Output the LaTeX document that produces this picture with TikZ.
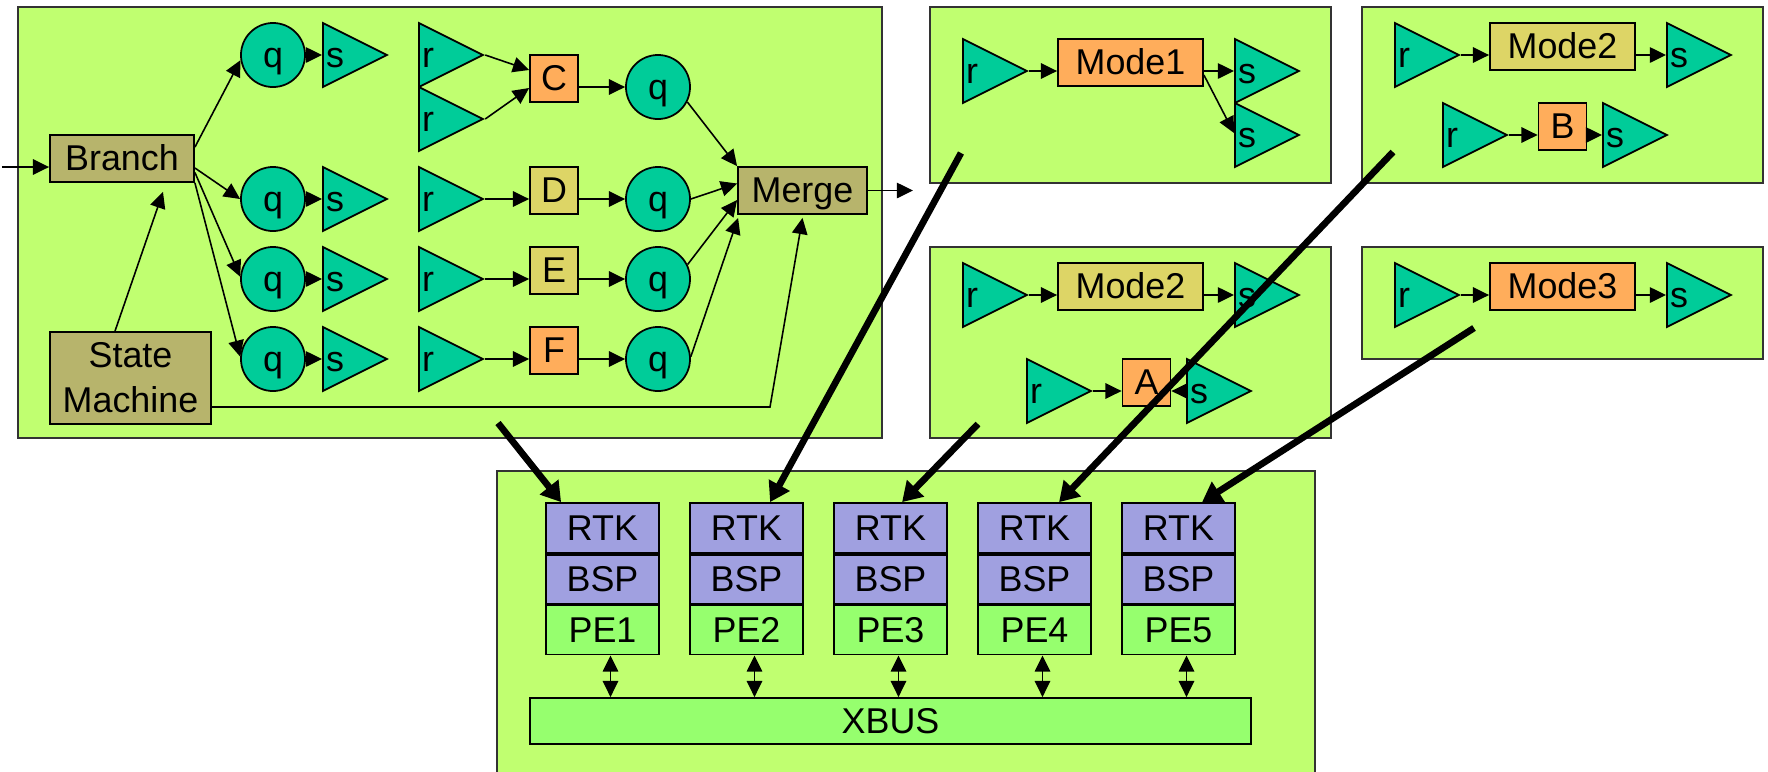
\documentclass[tikz,border=0pt]{standalone}
\usepackage{fontspec}
\setmainfont{Liberation Sans}
\usetikzlibrary{shapes.geometric, arrows.meta, positioning, calc}
\definecolor{panelgreen}{RGB}{192,255,112}
\definecolor{tealnode}{RGB}{0,204,153}
\definecolor{orangenode}{RGB}{255,173,91}
\definecolor{yellownode}{RGB}{221,213,102}
\definecolor{olivenode}{RGB}{183,180,108}
\definecolor{lavender}{RGB}{160,160,224}
\definecolor{pegreen}{RGB}{150,255,110}
\tikzset{
  txt/.style={font=\fontsize{10.2}{12.8}\selectfont},
  panel/.style={draw=black!80, fill=panelgreen, line width=0.5pt},
  rect/.style={rectangle, draw, line width=0.5pt, inner sep=0pt, txt},
  box/.style={rect, text height=0.9em, text depth=0.21em},
  ctl/.style={box, fill=olivenode},
  org/.style={box, fill=orangenode},
  ylw/.style={box, fill=yellownode},
  letter/.style={minimum width=0.48cm, minimum height=0.47cm},
  modebox/.style={minimum width=1.45cm, minimum height=0.47cm},
  layer/.style={box, fill=lavender, minimum width=1.13cm, minimum height=0.49cm},
  pe/.style={box, fill=pegreen, minimum width=1.13cm, minimum height=0.49cm},
  que/.style={circle, draw, fill=tealnode, minimum size=0.64cm, inner sep=0pt,
    line width=0.5pt, txt, text height=0.9em, text depth=0.21em},
  port/.style={isosceles triangle, isosceles triangle stretches, draw,
    fill=tealnode, minimum width=0.64cm, minimum height=0.64cm,
    inner sep=0pt, line width=0.5pt, anchor=west},
  plbl/.style={anchor=west, inner sep=1pt, txt, text height=0.9em, text depth=0.21em},
  arr/.style={-{Triangle[length=4.6pt, width=4.4pt]}, line width=0.45pt},
  darr/.style={{Triangle[length=4.6pt, width=4.4pt]}-{Triangle[length=4.6pt, width=4.4pt]},
    line width=0.45pt},
  map/.style={-{Triangle[length=5.5pt, width=6.5pt]}, line width=1.9pt}
}

\begin{document}
\begin{tikzpicture}[x=0.01cm, y=-0.01cm]
  \useasboundingbox (0,0) rectangle (1768,772);

  % panels
  \draw[panel] (18,7) rectangle (882,438);
  \draw[panel] (930,7) rectangle (1331,183);
  \draw[panel] (1362,7) rectangle (1763,183);
  \draw[panel] (930,247) rectangle (1331,438);
  \draw[panel] (1362,247) rectangle (1763,359);
  \draw[panel] (497,471) rectangle (1315,800);

  % branch / merge graph
  \node[ctl, minimum width=1.44cm, minimum height=0.47cm] (branch) at (122,158.5) {Branch};
  \node[rect, fill=olivenode, align=center, minimum width=1.61cm,
        minimum height=0.92cm] (fsm) at (130.5,378) {State\\Machine};
  \node[ctl, minimum width=1.29cm, minimum height=0.47cm] (merge) at (802.5,190.5) {Merge};

  \foreach \n/\y in {1/55,2/199,3/279,4/359}{
    \node[que] (qa\n) at (273,\y) {q};
    \node[port, label={[plbl]west:s}] (sa\n) at (322,\y) {};
    \draw[arr] (qa\n.east) -- (sa\n.west);
  }

  \foreach \n/\y in {1/55,2/119,3/199,4/279,5/359}
    \node[port, label={[plbl]west:r}] (rb\n) at (418,\y) {};

  \node[org, letter] (C) at (554,78.5) {C};
  \node[ylw, letter] (D) at (554,190.5) {D};
  \node[ylw, letter] (E) at (554,270.5) {E};
  \node[org, letter] (F) at (554,350.5) {F};

  \foreach \n/\y in {1/87,2/199,3/279,4/359}
    \node[que] (qb\n) at (658,\y) {q};

  \coordinate (src) at (2,167);
  \coordinate (turn) at (770,407);
  \coordinate (out) at (913,190.5);

  \draw[arr] (src) -- (src -| branch.west);
  \draw[arr] ([shift={(0,13)}]branch.north east) -- (qa1.189);
  \draw[arr] ([shift={(0,9.5)}]branch.east) -- (qa2.west);
  \draw[arr] ([shift={(0,14)}]branch.east) -- (qa3.176);
  \draw[arr] (branch.south east) -- (qa4.176);
  \draw[arr] ([shift={(-15.5,0)}]fsm.north) -- ([shift={(41,9)}]branch.south);

  \draw[arr] (rb1.apex) -- ([shift={(0,-8.5)}]C.west);
  \draw[arr] (rb2.apex) -- ([shift={(0,9.5)}]C.west);
  \foreach \rn/\blk in {3/D,4/E,5/F}
    \draw[arr] (rb\rn.apex) -- (rb\rn.apex -| \blk.west);
  \foreach \blk/\qn in {C/1,D/2,E/3,F/4}
    \draw[arr] (\blk.east |- qb\qn) -- (qb\qn);

  \draw[arr] (qb1.-27) -- (merge.north west);
  \draw[arr] (qb2.east) -- ([shift={(0,-7)}]merge.west);
  \draw[arr] (qb3.26) -- ([shift={(0,9.5)}]merge.west);
  \draw[arr] (qb4.4) -- ([shift={(1,3)}]merge.south west);
  \draw[arr] (fsm.east |- turn) -- (turn) -- ([shift={(0,3)}]merge.south);
  \draw[arr] (merge.east) -- (out);

  % Mode1
  \node[port, label={[plbl]west:r}] (m1r) at (962,71) {};
  \node[org, modebox] (mode1) at (1130.5,62.5) {Mode1};
  \node[port, label={[plbl]west:s}] (m1s) at (1234,71) {};
  \node[port, label={[plbl]west:s}] (m1t) at (1234,135) {};
  \draw[arr] (m1r.apex) -- (m1r.apex -| mode1.west);
  \draw[arr] (mode1.east |- m1s) -- (m1s.west);
  \draw[arr] ([shift={(0,12.5)}]mode1.east) -- ([shift={(0,-2)}]m1t.west);

  % Mode2 and B
  \node[port, label={[plbl]west:r}] (m2r) at (1394,55) {};
  \node[ylw, modebox] (mode2) at (1562.5,46.5) {Mode2};
  \node[port, label={[plbl]west:s}] (m2s) at (1666,55) {};
  \draw[arr] (m2r.apex) -- (m2r.apex -| mode2.west);
  \draw[arr] (mode2.east |- m2s) -- (m2s.west);

  \node[port, label={[plbl]west:r}] (br) at (1442,135) {};
  \node[org, letter] (B) at (1562.5,126.5) {B};
  \node[port, label={[plbl]west:s}] (bs) at (1602,135) {};
  \draw[arr] (br.apex) -- (br.apex -| B.west);
  \draw[arr] (B.east |- bs) -- (bs.west);

  % Mode2 and A
  \node[port, label={[plbl]west:r}] (m2br) at (962,295) {};
  \node[ylw, modebox] (mode2b) at (1130.5,286.5) {Mode2};
  \node[port, label={[plbl]west:s}] (m2bs) at (1234,295) {};
  \draw[arr] (m2br.apex) -- (m2br.apex -| mode2b.west);
  \draw[arr] (mode2b.east |- m2bs) -- (m2bs.west);

  \node[port, label={[plbl]west:r}] (ar) at (1026,391) {};
  \node[org, letter] (A) at (1146.5,382.5) {A};
  \node[port, label={[plbl]west:s}] (as) at (1186,391) {};
  \draw[arr] (ar.apex) -- (ar.apex -| A.west);
  \draw[arr] (as.west) -- (as.west -| A.east);

  % Mode3
  \node[port, label={[plbl]west:r}] (m3r) at (1394,295) {};
  \node[org, modebox] (mode3) at (1562.5,286.5) {Mode3};
  \node[port, label={[plbl]west:s}] (m3s) at (1666,295) {};
  \draw[arr] (m3r.apex) -- (m3r.apex -| mode3.west);
  \draw[arr] (mode3.east |- m3s) -- (m3s.west);

  % processing elements
  \node[pe, minimum width=7.21cm, minimum height=0.46cm] (xbus) at (890.5,721) {XBUS};
  \foreach \i in {1,...,5}{
    \node[layer, minimum height=0.50cm] (rtk\i) at ({602.5+144*(\i-1)},528) {RTK};
    \node[layer, below=0pt of rtk\i] (bsp\i) {BSP};
    \node[pe, below=0pt of bsp\i] (pe\i) {PE\i};
    \draw[darr] ($(pe\i.south)+(8,0)$) -- ($(pe\i.south |- xbus.north)+(8,0)$);
  }

  % mapping onto PEs
  \coordinate (pan1) at (498,423);
  \coordinate (pan2) at (961,153);
  \coordinate (pan3) at (1393,152);
  \coordinate (pan4) at (978,424);
  \coordinate (pan5) at (1474,328);
  \draw[map] (pan1) -- ([shift={(16,0)}]rtk1.north west);
  \draw[map] (pan2) -- ([shift={(81,0)}]rtk2.north west);
  \draw[map] (pan4) -- ([shift={(69,0)}]rtk3.north west);
  \draw[map] (pan3) -- ([shift={(82,0)}]rtk4.north west);
  \draw[map] (pan5) -- ([shift={(81,0)}]rtk5.north west);
\end{tikzpicture}
\end{document}
